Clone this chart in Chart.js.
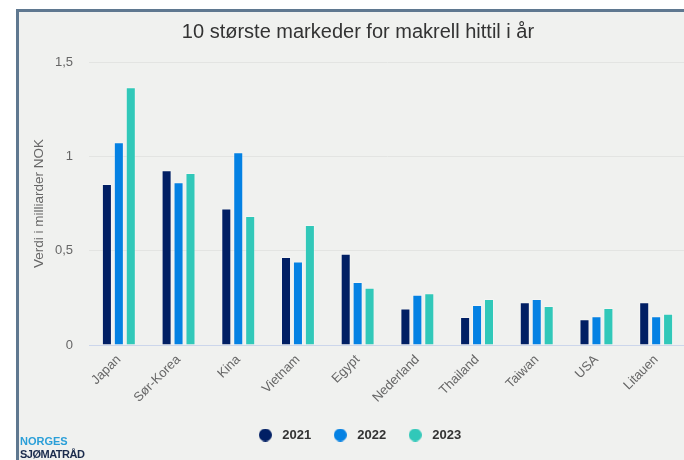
<!DOCTYPE html>
<html>
<head>
<meta charset="utf-8">
<script src="https://cdn.jsdelivr.net/npm/chart.js@4"></script>
<style>
  html, body { margin: 0; padding: 0; width: 684px; height: 460px; overflow: hidden; background: #ffffff; }
  #frame { position: absolute; left: 16px; top: 9px; width: 720px; height: 470px; background: #f0f1ef;
           border-left: 3px solid #5f7890; border-top: 3px solid #5f7890; }
  #c { position: absolute; left: 19px; top: 12px; }
  #logo { position: absolute; left: 20px; top: 435px; font-family: "Liberation Sans", Arial, sans-serif;
          font-weight: bold; font-size: 11px; line-height: 13px; }
  #logo .a { color: #2a9fd8; }
  #logo .b { color: #1a2b4c; letter-spacing: -0.5px; }
</style>
</head>
<body>
<div id="frame"></div>
<canvas id="c" width="680" height="448" style="width:680px;height:448px"></canvas>
<div id="logo"><div class="a">NORGES</div><div class="b">SJØMATRÅD</div></div>
<script>
const titleText = '10 største markeder for makrell hittil i år';
const yAxisTitle = 'Verdi i milliarder NOK';
const categories = ['Japan', 'Sør-Korea', 'Kina', 'Vietnam', 'Egypt', 'Nederland', 'Thailand', 'Taiwan', 'USA', 'Litauen'];
const seriesNames = ['2021', '2022', '2023'];
const values2021 = [0.853, 0.926, 0.724, 0.466, 0.484, 0.194, 0.148, 0.226, 0.136, 0.226];
const values2022 = [1.074, 0.862, 1.021, 0.443, 0.334, 0.267, 0.212, 0.244, 0.152, 0.152];
const values2023 = [1.366, 0.912, 0.684, 0.636, 0.304, 0.274, 0.244, 0.207, 0.196, 0.166];
const yTickValues = [0, 0.5, 1, 1.5];
const yTickLabels = ['0', '0,5', '1', '1,5'];
const seriesColors = ['#011f64', '#0481e3', '#31c8b9'];

const FONT = '"Liberation Sans", Arial, sans-serif';

function circleImg(color) {
  const cv = document.createElement('canvas');
  cv.width = 13; cv.height = 13;
  const g = cv.getContext('2d');
  g.fillStyle = color;
  g.beginPath(); g.arc(6.5, 6.5, 6.5, 0, Math.PI * 2); g.fill();
  return cv;
}
const legendMarks = seriesColors.map(circleImg);

const seriesValues = [values2021, values2022, values2023];
const datasets = seriesNames.map((name, i) => ({
  label: name,
  data: seriesValues[i],
  backgroundColor: seriesColors[i],
  borderColor: 'rgba(255,255,255,0.3)',
  borderWidth: 1,
  barPercentage: 0.84,
  categoryPercentage: 0.6
}));

new Chart(document.getElementById('c'), {
  type: 'bar',
  data: { labels: categories, datasets },
  options: {
    responsive: false,
    animation: false,
    devicePixelRatio: 1,
    layout: { padding: { left: 11, right: 13, top: 0, bottom: 8.5 } },
    plugins: {
      title: {
        display: true, text: titleText, color: '#333333',
        font: { family: FONT, size: 20, weight: 'normal' },
        padding: { top: 8, bottom: 18 }
      },
      legend: {
        position: 'bottom',
        labels: {
          usePointStyle: true,
          pointStyleWidth: 21,
          padding: 18.5,
          color: '#333333',
          font: { family: FONT, size: 13, weight: 'bold' },
          generateLabels: (chart) => {
            const items = Chart.defaults.plugins.legend.labels.generateLabels(chart);
            items.forEach((it, i) => { it.pointStyle = legendMarks[i]; });
            return items;
          }
        }
      },
      tooltip: { enabled: false }
    },
    scales: {
      x: {
        grid: { display: false, drawTicks: false },
        border: { display: true, color: '#ccd6eb', width: 1 },
        ticks: {
          color: '#666666', font: { family: FONT, size: 13 },
          minRotation: 45, maxRotation: 45, padding: 7, autoSkip: false
        },
        afterFit: (s) => { s.height = 65; }
      },
      y: {
        min: 0, max: 1.5,
        grid: { color: '#e3e4e2', drawTicks: false },
        border: { display: false },
        afterBuildTicks: (s) => { s.ticks = yTickValues.map(v => ({ value: v })); },
        ticks: {
          color: '#666666', font: { family: FONT, size: 13 }, padding: 16,
          callback: (v) => { const k = yTickValues.indexOf(v); return k >= 0 ? yTickLabels[k] : ''; }
        },
        title: {
          display: true, text: yAxisTitle, color: '#666666',
          font: { family: FONT, size: 13.5 }, padding: { top: 1, bottom: 0 }
        },
        afterFit: (s) => { s.width = 59; }
      }
    }
  }
});
</script>
</body>
</html>
